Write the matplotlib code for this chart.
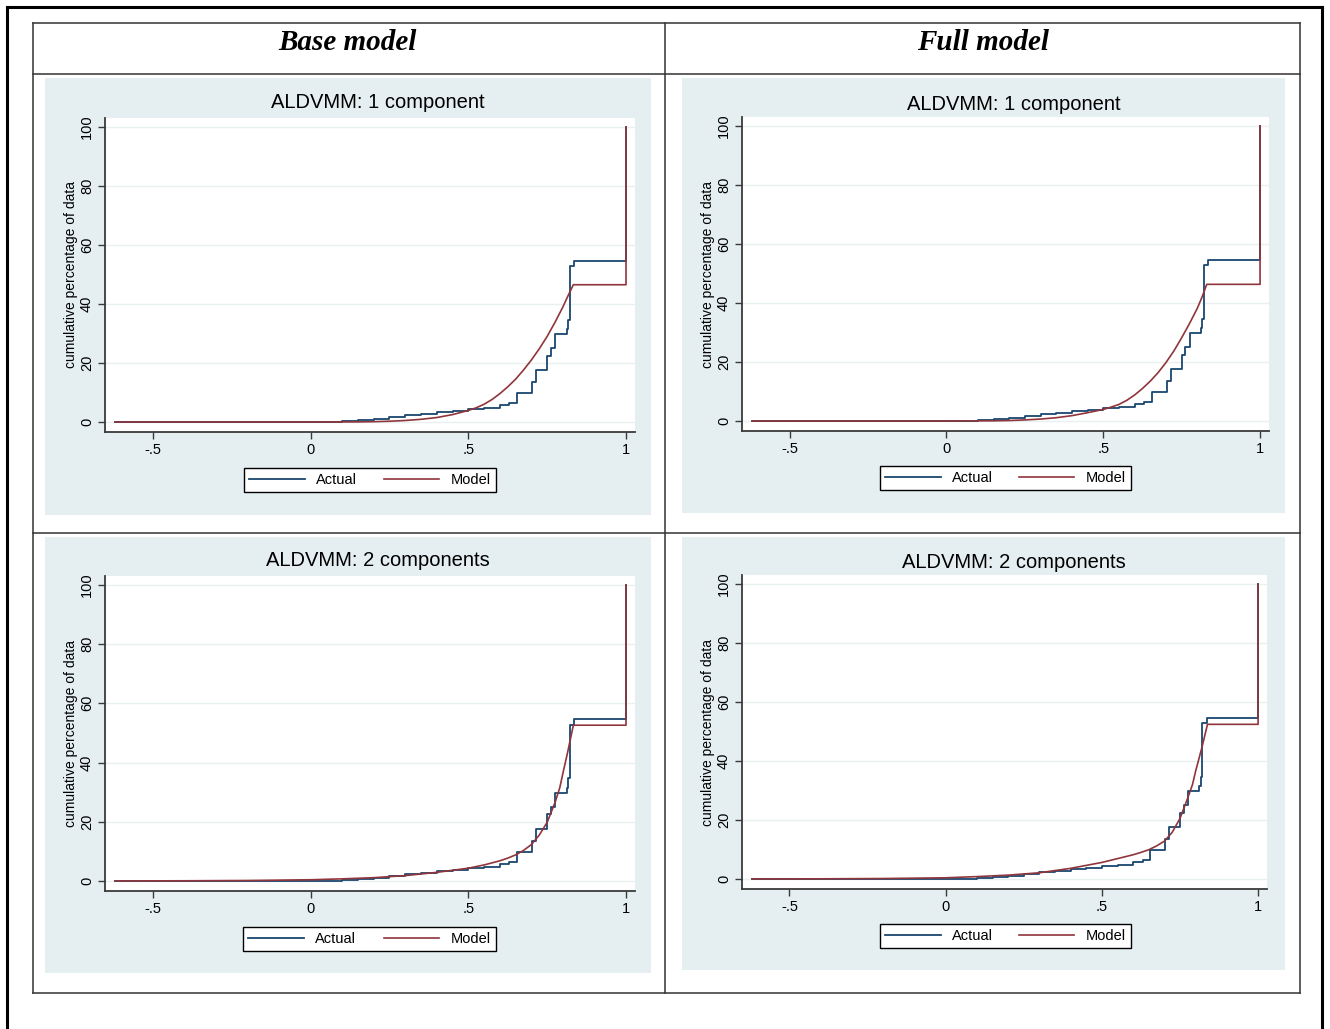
import matplotlib.pyplot as plt
from matplotlib.lines import Line2D
from matplotlib.patches import Rectangle

W, H = 1330, 1029

# shared observed data (step function), x = utility value, y = cumulative %
actual_x = [-0.62, 0.10, 0.15, 0.20, 0.25, 0.30, 0.35, 0.40, 0.45, 0.50, 0.55, 0.60,
            0.63, 0.655, 0.703, 0.715, 0.75, 0.762, 0.775, 0.812, 0.816, 0.822, 0.835, 1.0]
actual_y = [0, 0.2, 0.5, 1.0, 1.6, 2.2, 2.8, 3.4, 3.8, 4.3, 4.8, 5.6,
            6.5, 9.8, 13.5, 17.5, 22.5, 25.0, 29.8, 31.5, 34.7, 52.8, 54.6, 100]

# model-predicted curves
base1_x = [-0.62, 0.0, 0.15, 0.2, 0.25, 0.3, 0.35, 0.4, 0.45, 0.5, 0.525, 0.55, 0.575,
           0.6, 0.625, 0.65, 0.675, 0.7, 0.725, 0.75, 0.775, 0.8, 0.815, 0.833, 1.0, 1.0]
base1_y = [0, 0, 0.02, 0.1, 0.25, 0.5, 0.9, 1.5, 2.5, 3.9, 4.8, 6.0, 7.6,
           9.6, 11.9, 14.5, 17.6, 21.0, 24.8, 29.0, 33.8, 39.0, 42.5, 46.5, 46.5, 100]

full1_x = [-0.62, 0.0, 0.15, 0.2, 0.25, 0.3, 0.35, 0.4, 0.45, 0.5, 0.525, 0.55, 0.575,
           0.6, 0.625, 0.65, 0.675, 0.7, 0.725, 0.75, 0.775, 0.8, 0.815, 0.83, 1.0, 1.0]
full1_y = [0, 0, 0.05, 0.15, 0.35, 0.65, 1.1, 1.8, 2.8, 3.9, 4.7, 5.6, 7.0,
           8.8, 11.0, 13.5, 16.4, 19.8, 23.7, 28.2, 33.0, 38.2, 42.0, 46.3, 46.3, 100]

base2_x = [-0.62, -0.4, -0.2, 0.0, 0.1, 0.2, 0.3, 0.4, 0.5, 0.55, 0.6, 0.625, 0.65,
           0.675, 0.7, 0.725, 0.75, 0.775, 0.79, 0.8, 0.815, 0.833, 1.0, 1.0]
base2_y = [0, 0.05, 0.15, 0.4, 0.7, 1.1, 1.8, 2.9, 4.3, 5.4, 6.8, 7.7, 8.8,
           10.3, 12.3, 15.5, 19.8, 26.5, 31.5, 36.4, 43.5, 52.6, 52.6, 100]

full2_x = [-0.62, -0.4, -0.2, 0.0, 0.1, 0.2, 0.3, 0.4, 0.5, 0.55, 0.6, 0.625, 0.65,
           0.675, 0.7, 0.725, 0.75, 0.775, 0.79, 0.8, 0.82, 0.838, 1.0, 1.0]
full2_y = [0, 0.05, 0.15, 0.4, 0.8, 1.3, 2.1, 3.6, 5.6, 6.9, 8.2, 9.0, 9.9,
           11.2, 12.8, 15.8, 20.5, 27.5, 32.0, 36.5, 44.5, 52.4, 52.4, 100]

column_titles = ["Base model", "Full model"]
panel_titles = ["ALDVMM: 1 component", "ALDVMM: 1 component",
                "ALDVMM: 2 components", "ALDVMM: 2 components"]
xticks = [-0.5, 0, 0.5, 1]
xtick_labels = ["-.5", "0", ".5", "1"]
yticks = [0, 20, 40, 60, 80, 100]

ACTUAL_C = "#1a476f"
MODEL_C = "#90353b"
PANEL_BG = "#e5eff2"

fig = plt.figure(figsize=(W / 100, H / 100), dpi=100)
plt.rcParams["font.family"] = ["Liberation Sans", "DejaVu Sans"]


def fx(x):
    return x / W


def fy(y):
    return 1 - y / H


def rect(x0, y0, x1, y1):
    return [fx(x0), fy(y1), (x1 - x0) / W, (y1 - y0) / H]


def hline(x0, x1, y, lw, color):
    fig.add_artist(Line2D([fx(x0), fx(x1)], [fy(y), fy(y)], lw=lw, color=color,
                          transform=fig.transFigure))


def vline(x, y0, y1, lw, color):
    fig.add_artist(Line2D([fx(x), fx(x)], [fy(y0), fy(y1)], lw=lw, color=color,
                          transform=fig.transFigure))


# outer frame and table grid
vline(7, 7, H + 5, 2.2, "black")
vline(1322, 7, H + 5, 2.2, "black")
hline(7, 1322, 7, 2.2, "black")
for y in (23, 74, 533, 993):
    hline(33, 1300, y, 1.1, "#333333")
for x in (33, 665, 1300):
    vline(x, 23, 993, 1.1, "#333333")

fig.text(fx(347), fy(42), column_titles[0], ha="center", va="center",
         family="Liberation Serif", style="italic", weight="bold", fontsize=21)
fig.text(fx(983), fy(42), column_titles[1], ha="center", va="center",
         family="Liberation Serif", style="italic", weight="bold", fontsize=21)

# panel layout in pixels: background, plot area, title y, legend box
panels = [
    dict(bg=(45, 78, 651, 515), plot=(105, 118, 635, 432), ty=103, leg=(244, 467, 496, 493),
         mx=base1_x, my=base1_y),
    dict(bg=(682, 78, 1285, 513), plot=(742, 117, 1269, 431), ty=104, leg=(880, 465, 1131, 491),
         mx=full1_x, my=full1_y),
    dict(bg=(45, 537, 651, 973), plot=(105, 576, 635, 891), ty=560, leg=(243, 926, 496, 952),
         mx=base2_x, my=base2_y),
    dict(bg=(682, 537, 1285, 970), plot=(742, 575, 1267, 889), ty=563, leg=(880, 923, 1131, 949),
         mx=full2_x, my=full2_y),
]

for i, p in enumerate(panels):
    bx0, by0, bx1, by1 = p["bg"]
    fig.add_artist(Rectangle((fx(bx0), fy(by1)), (bx1 - bx0) / W, (by1 - by0) / H,
                             transform=fig.transFigure, facecolor=PANEL_BG,
                             edgecolor="none", zorder=0))
    px0, py0, px1, py1 = p["plot"]
    ax = fig.add_axes(rect(px0, py0, px1, py1))
    ax.set_facecolor("white")
    ax.plot(actual_x, actual_y, drawstyle="steps-post", color=ACTUAL_C, lw=1.3, label="Actual")
    ax.plot(p["mx"], p["my"], color=MODEL_C, lw=1.2, label="Model")
    ax.set_xlim(-0.652, 1.0285)
    ax.set_ylim(-3.4, 103)
    ax.set_xticks(xticks)
    ax.set_xticklabels(xtick_labels, fontsize=10.5)
    ax.set_yticks(yticks)
    ax.set_yticklabels([str(v) for v in yticks], fontsize=10.5, rotation=90, va="center")
    ax.grid(axis="y", color="#e8f0f2", lw=1.0)
    ax.set_axisbelow(True)
    for side in ("top", "right"):
        ax.spines[side].set_visible(False)
    for side in ("left", "bottom"):
        ax.spines[side].set_color("#3a3a3a")
        ax.spines[side].set_linewidth(1.3)
    ax.tick_params(axis="both", length=5, width=1.0, color="#3a3a3a", pad=3)
    ax.set_ylabel("cumulative percentage of data", fontsize=10)
    ax.yaxis.set_label_coords(-27 / (px1 - px0), 0.5)

    fig.text(fx((bx0 + bx1) / 2 + 30), fy(p["ty"]), panel_titles[i],
             ha="center", va="center", fontsize=14.5)

    lx0, ly0, lx1, ly1 = p["leg"]
    ax.legend(loc="center", bbox_to_anchor=(fx(lx0), fy(ly1), (lx1 - lx0) / W, (ly1 - ly0) / H),
              bbox_transform=fig.transFigure, mode="expand", ncol=2, fontsize=10.5,
              frameon=True, fancybox=False, edgecolor="black", framealpha=1,
              handlelength=3.8, borderaxespad=0, borderpad=0.35, columnspacing=2.0,
              handletextpad=0.8)
    ax.get_legend().get_frame().set_linewidth(1.0)

fig.savefig("out.png", dpi=100, facecolor="white")
